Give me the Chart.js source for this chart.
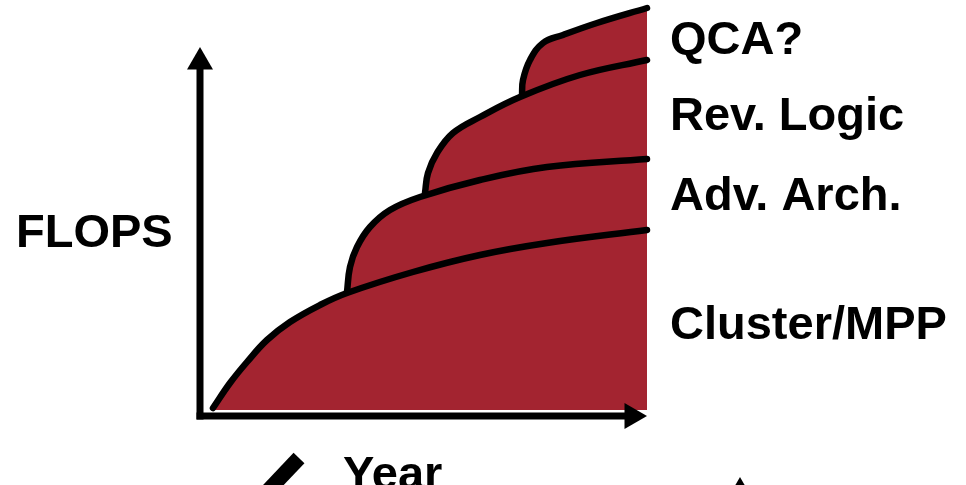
<!DOCTYPE html>
<html>
<head>
<meta charset="utf-8">
<script src="https://cdn.jsdelivr.net/npm/chart.js@4"></script>
<style>
  html, body { margin: 0; padding: 0; background: #ffffff; }
  canvas { display: block; }
</style>
</head>
<body>
<canvas id="flops" width="966" height="485"></canvas>
<script>
// Schematic: x = year (arbitrary units), y = FLOPS (arbitrary units), origin at the axes corner
const clusterX = [13, 30, 47, 67, 90, 120, 147, 213, 280, 347, 447];
const clusterY = [2, 27, 48, 70, 88, 105, 117, 138, 155, 167, 180];

const advArchX = [147, 150, 157, 170, 190, 220, 280, 347, 447];
const advArchY = [118, 143, 163, 183, 200, 213, 230, 243, 251];

const revLogicX = [225, 228, 237, 253, 280, 320, 380, 447];
const revLogicY = [217, 237, 257, 277, 293, 313, 335, 350];

const qcaX = [322, 323, 330, 343, 363, 397, 447];
const qcaY = [315, 330, 350, 367, 375, 387, 402];

const seriesLabels = ['Cluster/MPP', 'Adv. Arch.', 'Rev. Logic', 'QCA?'];
const axisTitles = ['FLOPS', 'Year'];

const RED = '#a32430';

function pts(xs, ys) {
  return xs.map((x, i) => ({ x: x, y: ys[i] }));
}

function curve(label, xs, ys) {
  return {
    label: label,
    data: pts(xs, ys),
    showLine: true,
    borderColor: '#000000',
    backgroundColor: RED,
    borderWidth: 6.5,
    fill: 'origin',
    tension: 0.4,
    pointRadius: 0,
    borderCapStyle: 'round',
    borderJoinStyle: 'round'
  };
}

// axis with an arrow head on the last point
function arrowAxis(data, rotation) {
  return {
    data: data,
    showLine: true,
    borderColor: '#000000',
    borderWidth: 7,
    fill: false,
    pointStyle: 'triangle',
    pointRotation: rotation,
    pointRadius: [0, 15],
    pointBackgroundColor: '#000000',
    pointBorderWidth: 0,
    borderCapStyle: 'butt'
  };
}

const labelPlugin = {
  id: 'labels',
  afterDraw(chart) {
    const ctx = chart.ctx;
    ctx.save();
    ctx.fillStyle = '#000000';
    ctx.font = 'bold 47px "Liberation Sans", Arial, sans-serif';
    ctx.textBaseline = 'alphabetic';
    ctx.textAlign = 'left';
    // right-hand labels, top to bottom
    const rows = [[3, 54], [2, 130], [1, 210], [0, 339]];
    rows.forEach(([i, y]) => ctx.fillText(seriesLabels[i], 670, y));
    ctx.fillText(axisTitles[0], 16, 247);
    ctx.fillText(axisTitles[1], 343, 489);
    ctx.restore();
  }
};

new Chart(document.getElementById('flops'), {
  type: 'scatter',
  data: {
    datasets: [
      curve(seriesLabels[0], clusterX, clusterY),
      curve(seriesLabels[1], advArchX, advArchY),
      curve(seriesLabels[2], revLogicX, revLogicY),
      curve(seriesLabels[3], qcaX, qcaY),
      // axes
      arrowAxis([{ x: 0, y: -9.5 }, { x: 0, y: 348 }], 0),
      arrowAxis([{ x: -3.5, y: -6 }, { x: 432, y: -6 }], 90),
      // cut-off marks at the bottom edge
      {
        data: [{ x: 99, y: -48 }, { x: 62, y: -87 }],
        showLine: true,
        borderColor: '#000000',
        borderWidth: 15,
        borderCapStyle: 'butt',
        pointRadius: 0,
        fill: false
      },
      {
        data: [{ x: 540, y: -82 }],
        pointStyle: 'triangle',
        pointRadius: 15,
        pointBackgroundColor: '#000000',
        pointBorderWidth: 0
      }
    ]
  },
  options: {
    responsive: false,
    animation: false,
    devicePixelRatio: 1,
    layout: { padding: 0, autoPadding: false },
    plugins: {
      legend: { display: false },
      tooltip: { enabled: false },
      filler: { drawTime: 'beforeDatasetsDraw' }
    },
    scales: {
      x: { type: 'linear', min: -200, max: 766, display: false },
      y: { type: 'linear', min: -75, max: 410, display: false }
    }
  },
  plugins: [labelPlugin]
});
</script>
</body>
</html>
